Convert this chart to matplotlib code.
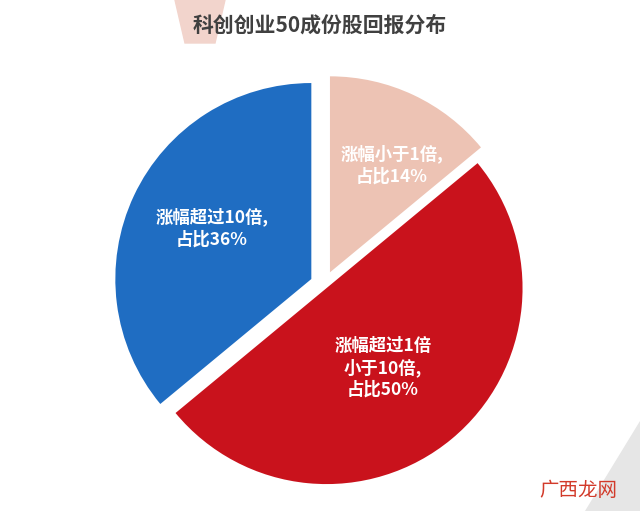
import matplotlib
matplotlib.use("Agg")
import matplotlib.pyplot as plt
from matplotlib.patches import Polygon

plt.rcParams['font.family'] = ['Noto Sans CJK SC', 'DejaVu Sans']

title = "科创创业50成份股回报分布"
labels = ["涨幅小于1倍,\n占比14%", "涨幅超过1倍\n小于10倍,\n占比50%", "涨幅超过10倍,\n占比36%"]
values = [14, 50, 36]
colors = ["#EDC3B4", "#C9121C", "#1F6DC2"]
explode = [14, 4, 14]
label_pos = [(392, 165), (383, 368), (212, 228)]

fig = plt.figure(figsize=(6.4, 5.11), dpi=100)
ax = fig.add_axes([0, 0, 1, 1])

ax.add_patch(Polygon([[175, 511], [225, 511], [215, 468], [185, 468]], closed=True, color="#F2D4CC"))
ax.add_patch(Polygon([[640, 90], [640, 0], [585, 0]], closed=True, color="#E6E6E6"))

wedges, _ = ax.pie(values, colors=colors, startangle=90, counterclock=False,
                   explode=explode, center=(324, 226), radius=196,
                   wedgeprops=dict(linewidth=0), frame=True)
ax.set_xlim(0, 640); ax.set_ylim(0, 511); ax.set_aspect('equal'); ax.axis('off')

for (x, y), t in zip(label_pos, labels):
    ax.text(x, 511 - y, t, ha='center', va='center', color='white', fontsize=12.5,
            fontweight='bold', linespacing=1.25)

ax.text(320, 511 - 25, title, ha='center', va='center', color='#404040', fontsize=15, fontweight='bold')
ax.text(578, 511 - 490, "广西龙网", ha='center', va='center', color='#D23A2A', fontsize=14)

fig.savefig("out.png", dpi=100)
